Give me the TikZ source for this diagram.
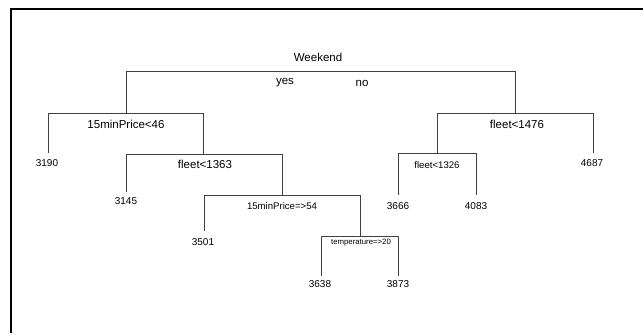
\documentclass[tikz,border=0pt]{standalone}
\usepackage{fontspec}
\setmainfont{Liberation Sans}
\begin{document}
\begin{tikzpicture}[x=1pt,y=-1pt,
  edge/.style={draw=black!75,line width=1pt},
  big/.style={font=\fontsize{11.5}{12}\selectfont,text=black,inner sep=0pt},
  mid/.style={font=\fontsize{9.6}{10}\selectfont,text=black,inner sep=0pt},
  small/.style={font=\fontsize{7.8}{8}\selectfont,text=black,inner sep=0pt},
  leaf/.style={font=\fontsize{10}{10}\selectfont,text=black,inner sep=0pt}]
\useasboundingbox (0,0) rectangle (643,333);
% frame
\draw[line width=2.6pt] (11,333) -- (11,9) -- (643,9);
% split points
\coordinate (root) at (320,71);
\coordinate (s1) at (126,113);
\coordinate (s2) at (203,154);
\coordinate (s3) at (282,195);
\coordinate (s4) at (360,236);
\coordinate (s5) at (515,113);
\coordinate (s6) at (437,153);
% leaf ends
\coordinate (e3190) at (48,153);
\coordinate (e3145) at (126,192);
\coordinate (e3501) at (204,231);
\coordinate (e3638) at (321,276);
\coordinate (e3873) at (398,276);
\coordinate (e4687) at (593,153);
\coordinate (e3666) at (398,195);
\coordinate (e4083) at (476,195);
% labels
\node[big] (tw) at (318,57) {Weekend};
\node[big] (tyes) at (285,83) {yes};
\node[big] (tno) at (362,83) {no};
\node[big] (t1) at (126,124) {15minPrice<46};
\node[big] (t2) at (205,164) {fleet<1363};
\node[mid] (t3) at (282,206) {15minPrice=>54};
\node[small] (t4) at (361,243) {temperature=>20};
\node[big] (t5) at (517,124) {fleet<1476};
\node[mid] (t6) at (437,165) {fleet<1326};
\node[leaf] (l3190) at (47,163) {3190};
\node[leaf] (l3145) at (126,201) {3145};
\node[leaf] (l3501) at (203,242) {3501};
\node[leaf] (l3638) at (320,284) {3638};
\node[leaf] (l3873) at (398,284) {3873};
\node[leaf] (l4687) at (592,163) {4687};
\node[leaf] (l3666) at (398,206) {3666};
\node[leaf] (l4083) at (476,206) {4083};
% edges
\draw[edge] (root) -| (s1);
\draw[edge] (root) -| (s5);
\draw[edge] (s1) -| (e3190);
\draw[edge] (s1) -| (s2);
\draw[edge] (s2) -| (e3145);
\draw[edge] (s2) -| (s3);
\draw[edge] (s3) -| (e3501);
\draw[edge] (s3) -| (s4);
\draw[edge] (s4) -| (e3638);
\draw[edge] (s4) -| (e3873);
\draw[edge] (s5) -| (s6);
\draw[edge] (s5) -| (e4687);
\draw[edge] (s6) -| (e3666);
\draw[edge] (s6) -| (e4083);
\end{tikzpicture}
\end{document}
